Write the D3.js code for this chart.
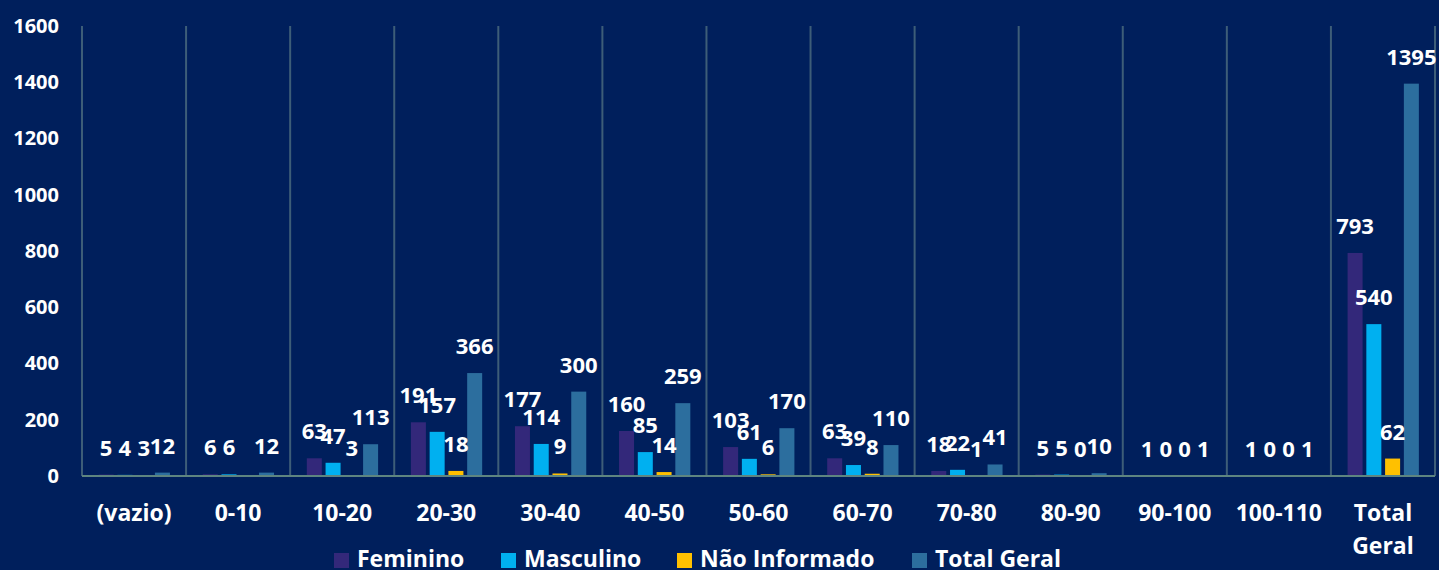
<!DOCTYPE html>
<html>
<head>
<meta charset="utf-8">
<script src="https://cdn.jsdelivr.net/npm/d3@7"></script>
<style>
  html, body { margin: 0; padding: 0; background: #001f5c; }
  svg { display: block; font-family: "Open Sans", Lato, sans-serif; font-weight: 700; }
</style>
</head>
<body>
<div id="chart"></div>
<script>
const categories = ["(vazio)", "0-10", "10-20", "20-30", "30-40", "40-50", "50-60", "60-70", "70-80", "80-90", "90-100", "100-110", "Total Geral"];
const feminino = [5, 6, 63, 191, 177, 160, 103, 63, 18, 5, 1, 1, 793];
const masculino = [4, 6, 47, 157, 114, 85, 61, 39, 22, 5, 0, 0, 540];
const naoInformado = [3, null, 3, 18, 9, 14, 6, 8, 1, 0, 0, 0, 62];
const totalGeral = [12, 12, 113, 366, 300, 259, 170, 110, 41, 10, 1, 1, 1395];
const seriesNames = ["Feminino", "Masculino", "Não Informado", "Total Geral"];
const seriesColors = ["#33287a", "#00b0f0", "#ffc000", "#2c6e9e"];
const yTicks = [0, 200, 400, 600, 800, 1000, 1200, 1400, 1600];

const width = 1439, height = 570;
const margin = { top: 26, right: 4, bottom: 94, left: 82 };

const svg = d3.select("#chart").append("svg")
  .attr("width", width)
  .attr("height", height);

svg.append("rect").attr("width", width).attr("height", height).attr("fill", "#001f5c");

const x = d3.scaleBand()
  .domain(categories)
  .range([margin.left, width - margin.right])
  .padding(0);

const y = d3.scaleLinear()
  .domain([0, 1600])
  .range([height - margin.bottom, margin.top]);

const inner = d3.scaleBand()
  .domain(seriesNames)
  .range([x.bandwidth() * 0.16, x.bandwidth() * 0.845])
  .paddingInner(0.2)
  .paddingOuter(0);

// vertical category separators
const bounds = categories.map(c => x(c)).concat([x.range()[1]]);
svg.append("g")
  .selectAll("line")
  .data(bounds)
  .join("line")
  .attr("x1", d => d).attr("x2", d => d)
  .attr("y1", y(1600)).attr("y2", y(0))
  .attr("stroke", "#3d5d78")
  .attr("stroke-width", 2);

// y axis labels
const yAxis = svg.append("g")
  .attr("transform", `translate(${margin.left},0)`)
  .call(d3.axisLeft(y).tickValues(yTicks).tickFormat(d3.format("d")).tickSize(0).tickPadding(23));
yAxis.select(".domain").remove();
yAxis.selectAll("text")
  .attr("fill", "#ffffff")
  .style("font-size", "20px")
  .style("font-family", "'Open Sans', sans-serif")
  .style("font-weight", 700);

const allSeries = [feminino, masculino, naoInformado, totalGeral];
const rows = [];
categories.forEach((c, i) => {
  allSeries.forEach((s, k) => {
    rows.push({ cat: c, name: seriesNames[k], value: s[i], color: seriesColors[k] });
  });
});

svg.append("g")
  .selectAll("rect")
  .data(rows.filter(d => d.value !== null))
  .join("rect")
  .attr("x", d => x(d.cat) + inner(d.name))
  .attr("width", inner.bandwidth())
  .attr("y", d => y(d.value))
  .attr("height", d => y(0) - y(d.value))
  .attr("fill", d => d.color);

// baseline on top of bars
svg.append("line")
  .attr("x1", x.range()[0]).attr("x2", x.range()[1])
  .attr("y1", y(0)).attr("y2", y(0))
  .attr("stroke", "#5e8580")
  .attr("stroke-width", 2);

// data labels
svg.append("g")
  .selectAll("text")
  .data(rows.filter(d => d.value !== null))
  .join("text")
  .attr("x", d => x(d.cat) + inner(d.name) + inner.bandwidth() / 2)
  .attr("y", d => y(d.value) - 19)
  .attr("text-anchor", "middle")
  .attr("fill", "#ffffff")
  .style("font-size", "22px")
  .text(d => d.value);

// category labels
const catLabels = svg.append("g")
  .selectAll("text")
  .data(categories)
  .join("text")
  .attr("x", d => x(d) + x.bandwidth() / 2)
  .attr("y", 521)
  .attr("text-anchor", "middle")
  .attr("fill", "#ffffff")
  .style("font-size", "23px");
catLabels.each(function(d) {
  const words = d === "Total Geral" ? ["Total", "Geral"] : [d];
  const t = d3.select(this);
  words.forEach((w, i) => {
    t.append("tspan")
      .attr("x", x(d) + x.bandwidth() / 2)
      .attr("dy", i === 0 ? 0 : 33)
      .text(w);
  });
});

// legend
const legendX = [334, 501, 677, 912];
const legend = svg.append("g")
  .selectAll("g")
  .data(seriesNames)
  .join("g")
  .attr("transform", (d, i) => `translate(${legendX[i]},553)`);
legend.append("rect")
  .attr("width", 15).attr("height", 15)
  .attr("fill", (d, i) => seriesColors[i]);
legend.append("text")
  .attr("x", 23)
  .attr("y", 14)
  .attr("fill", "#ffffff")
  .style("font-size", "23px")
  .text(d => d);
</script>
</body>
</html>
